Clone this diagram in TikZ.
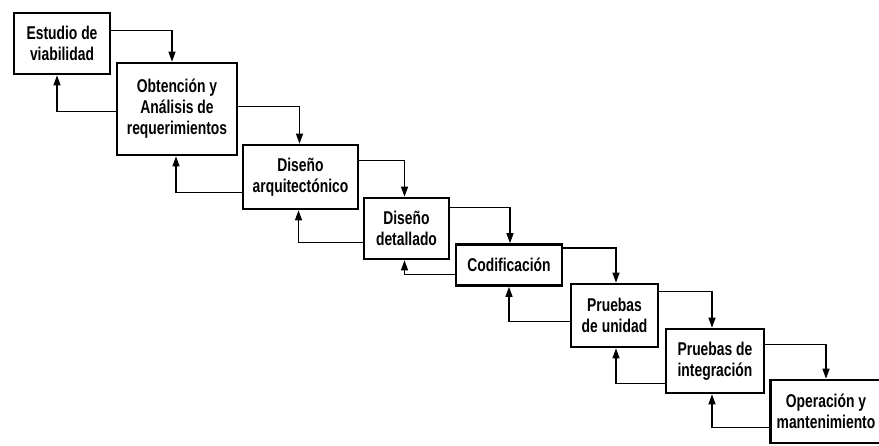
\documentclass[tikz,border=0pt]{standalone}
\usepackage{fontspec}
\setmainfont{Liberation Sans}[FakeStretch=0.75]
\usetikzlibrary{arrows.meta}
\tikzset{
  box/.style={draw=black, line width=2.7pt, fill=white, align=center, inner sep=0pt,
    font=\bfseries\fontsize{18.5}{21}\selectfont},
  conn/.style={draw=black, line width=1.3pt, -{Triangle[length=10pt,width=7pt]}},
}
\begin{document}
\begin{tikzpicture}[x=1pt,y=-1pt]
\useasboundingbox[fill=white] (0,0) rectangle (879,446);
% phases of the life cycle
\node[box, minimum width=96pt, minimum height=61pt] (b1) at (62,43.5) {Estudio de\\viabilidad};
\node[box, minimum width=120pt, minimum height=92pt] (b2) at (177,109) {Obtención y\\Análisis de\\requerimientos};
\node[box, minimum width=115pt, minimum height=64pt] (b3) at (300.5,177) {Diseño\\arquitectónico};
\node[box, minimum width=85pt, minimum height=61pt] (b4) at (406.5,228.5) {Diseño\\detallado};
\node[box, minimum width=106pt, minimum height=41pt] (b5) at (509,265) {Codificación};
\node[box, minimum width=87pt, minimum height=63pt] (b6) at (614.5,315.5) {Pruebas\\de unidad};
\node[box, minimum width=98pt, minimum height=64pt] (b7) at (715,361) {Pruebas de\\integración};
\node[box, minimum width=111pt, minimum height=63pt] (b8) at (826,411.5) {Operación y\\mantenimiento};
% forward flow
\draw[conn] ([yshift=-19pt]b1.north east) -| ([xshift=-5pt]b2.north);
\draw[conn] ([yshift=-45pt]b2.north east) -| ([xshift=-1pt]b3.north);
\draw[conn] ([yshift=-17pt]b3.north east) -| ([xshift=-2pt]b4.north);
\draw[conn] ([yshift=-11pt]b4.north east) -| ([xshift=1pt]b5.north);
\draw[conn] ([yshift=-5pt]b5.north east) -| ([xshift=1.5pt]b6.north);
\draw[conn] ([yshift=-9pt]b6.north east) -| ([xshift=-3pt]b7.north);
\draw[conn] ([yshift=-17pt]b7.north east) -| (b8.north);
% feedback
\draw[conn] ([yshift=45pt]b2.south west) -| ([xshift=-5pt]b1.south);
\draw[conn] ([yshift=18pt]b3.south west) -| ([xshift=-1pt]b2.south);
\draw[conn] ([yshift=18pt]b4.south west) -| ([xshift=-2pt]b3.south);
\draw[conn] ([yshift=12pt]b5.south west) -| ([xshift=-2pt]b4.south);
\draw[conn] ([yshift=27pt]b6.south west) -| (b5.south);
\draw[conn] ([yshift=11pt]b7.south west) -| ([xshift=1.5pt]b6.south);
\draw[conn] ([yshift=17pt]b8.south west) -| ([xshift=-3pt]b7.south);
\end{tikzpicture}
\end{document}
